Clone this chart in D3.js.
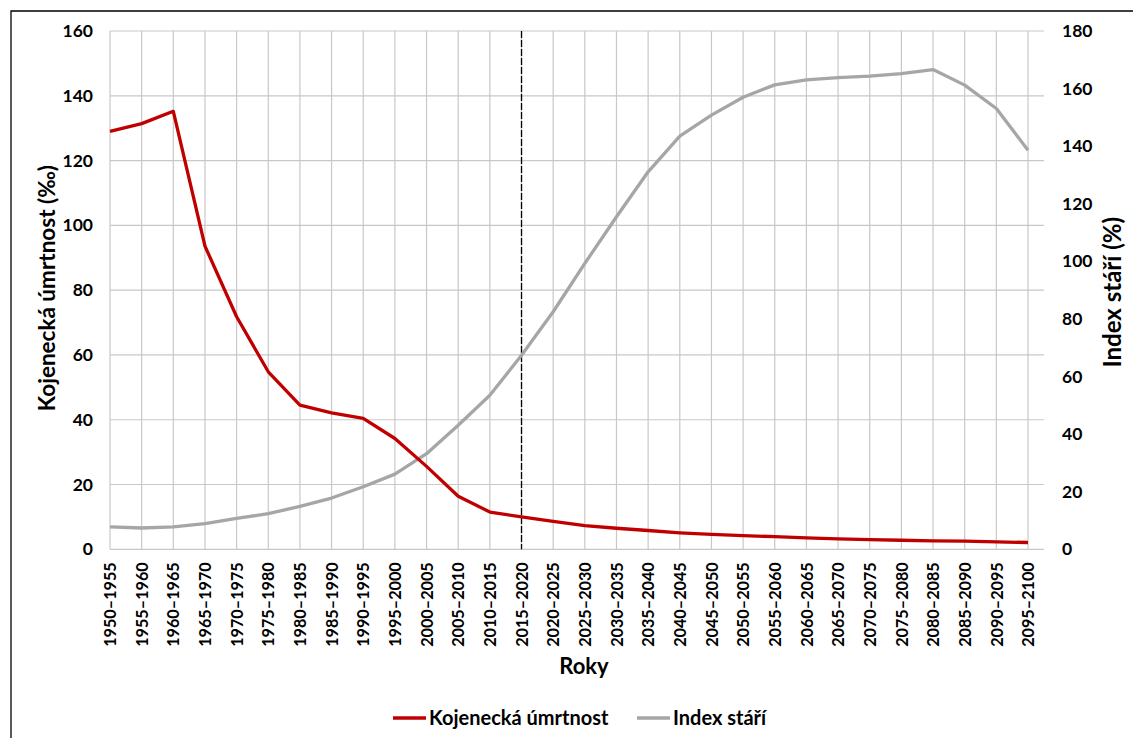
<!DOCTYPE html>
<html lang="cs">
<head>
<meta charset="utf-8">
<title>Kojenecká úmrtnost a index stáří</title>
<script src="https://cdn.jsdelivr.net/npm/d3@7"></script>
<style>
  html, body { margin: 0; padding: 0; background: #fff; }
  svg { display: block; font-family: Lato, "Open Sans", sans-serif; }
</style>
</head>
<body>
<svg id="chart" width="1133" height="738"></svg>
<script>
// Five-year periods
const periods = [
  "1950–1955", "1955–1960", "1960–1965", "1965–1970", "1970–1975", "1975–1980",
  "1980–1985", "1985–1990", "1990–1995", "1995–2000", "2000–2005", "2005–2010",
  "2010–2015", "2015–2020", "2020–2025", "2025–2030", "2030–2035", "2035–2040",
  "2040–2045", "2045–2050", "2050–2055", "2055–2060", "2060–2065", "2065–2070",
  "2070–2075", "2075–2080", "2080–2085", "2085–2090", "2090–2095", "2095–2100"
];

// Infant mortality (per mille), left axis
const infantMortality = [
  129.0, 131.4, 135.2, 93.6, 71.8, 54.8, 44.5, 42.1, 40.4, 34.2,
  25.6, 16.4, 11.5, 10.0, 8.6, 7.3, 6.5, 5.8, 5.1, 4.6,
  4.2, 3.9, 3.5, 3.2, 3.0, 2.8, 2.6, 2.5, 2.3, 2.1
];

// Ageing index (%), right axis
const ageingIndex = [
  7.8, 7.4, 7.8, 8.9, 10.7, 12.4, 14.9, 17.8, 21.7, 26.1,
  33.2, 43.1, 53.5, 67.4, 82.5, 99.3, 115.5, 131.1, 143.5, 150.8,
  157.0, 161.3, 163.0, 163.8, 164.3, 165.2, 166.6, 161.2, 153.1, 138.6
];

const leftTicks = [0, 20, 40, 60, 80, 100, 120, 140, 160];
const rightTicks = [0, 20, 40, 60, 80, 100, 120, 140, 160, 180];
const markerPeriod = "2015–2020";

const seriesNames = ["Kojenecká úmrtnost", "Index stáří"];
const seriesColors = ["#c00000", "#a6a6a6"];

const svg = d3.select("#chart");

const plot = { left: 110, right: 1028, gridRight: 1044, top: 31, bottom: 549.3 };

const x = d3.scalePoint().domain(periods).range([plot.left, plot.right]);
const yLeft = d3.scaleLinear().domain([0, 160]).range([plot.bottom, plot.top]);
const yRight = d3.scaleLinear().domain([0, 180]).range([plot.bottom, plot.top]);

const labelFont = "Lato, sans-serif";
const midY = (plot.top + plot.bottom) / 2;

// outer frame (top and left edges)
svg.append("path")
  .attr("d", "M11,738 L11,11 L1133,11")
  .attr("fill", "none")
  .attr("stroke", "#000")
  .attr("stroke-width", 1.3);

// grid
const grid = svg.append("g").attr("stroke", "#c8c8c8").attr("stroke-width", 1.2);
grid.selectAll("line.h").data(leftTicks).join("line")
  .attr("class", "h")
  .attr("x1", plot.left).attr("x2", plot.gridRight)
  .attr("y1", d => yLeft(d)).attr("y2", d => yLeft(d));
grid.selectAll("line.v").data(periods).join("line")
  .attr("class", "v")
  .attr("x1", d => x(d)).attr("x2", d => x(d))
  .attr("y1", plot.top).attr("y2", plot.bottom);

// left axis
const axL = svg.append("g")
  .attr("transform", `translate(${plot.left},0)`)
  .call(d3.axisLeft(yLeft).tickValues(leftTicks).tickSize(0).tickPadding(17));
axL.select(".domain").remove();
axL.selectAll("text")
  .attr("font-size", 17.5).attr("font-weight", 700).attr("fill", "#000")
  .style("font-family", labelFont);

// right axis
const axR = svg.append("g")
  .attr("transform", `translate(${plot.gridRight},0)`)
  .call(d3.axisRight(yRight).tickValues(rightTicks).tickSize(0).tickPadding(18));
axR.select(".domain").remove();
axR.selectAll("text")
  .attr("font-size", 17.5).attr("font-weight", 700).attr("fill", "#000")
  .style("font-family", labelFont);

// bottom category labels, rotated
const axB = svg.append("g")
  .attr("transform", `translate(0,${plot.bottom})`)
  .call(d3.axisBottom(x).tickSize(0).tickPadding(0));
axB.select(".domain").remove();
axB.selectAll("text")
  .attr("font-size", 16.2).attr("font-weight", 700).attr("fill", "#000")
  .style("font-family", labelFont)
  .attr("text-anchor", "end")
  .attr("transform", "translate(0,13) rotate(-90)")
  .attr("x", 0).attr("y", 0).attr("dy", "0.35em");

// vertical dashed marker
svg.append("line")
  .attr("x1", x(markerPeriod)).attr("x2", x(markerPeriod))
  .attr("y1", plot.top).attr("y2", plot.bottom)
  .attr("stroke", "#000").attr("stroke-width", 1.3)
  .attr("stroke-dasharray", "7,2");

// series lines
const lineLeft = d3.line().x((d, i) => x(periods[i])).y(d => yLeft(d));
const lineRight = d3.line().x((d, i) => x(periods[i])).y(d => yRight(d));

svg.append("path")
  .datum(ageingIndex)
  .attr("d", lineRight)
  .attr("fill", "none")
  .attr("stroke", seriesColors[1])
  .attr("stroke-width", 3.3)
  .attr("stroke-linejoin", "round");

svg.append("path")
  .datum(infantMortality)
  .attr("d", lineLeft)
  .attr("fill", "none")
  .attr("stroke", seriesColors[0])
  .attr("stroke-width", 3.3)
  .attr("stroke-linejoin", "round");

// axis titles
svg.append("text")
  .attr("transform", `translate(55,${midY - 2}) rotate(-90)`)
  .attr("text-anchor", "middle")
  .attr("font-size", 22.5).attr("font-weight", 700).attr("fill", "#000")
  .text("Kojenecká úmrtnost (‰)");

svg.append("text")
  .attr("transform", `translate(1121,${midY + 2}) rotate(-90)`)
  .attr("text-anchor", "middle")
  .attr("font-size", 24).attr("font-weight", 700).attr("fill", "#000")
  .text("Index stáří (%)");

svg.append("text")
  .attr("x", 584).attr("y", 674)
  .attr("text-anchor", "middle")
  .attr("font-size", 22).attr("font-weight", 700).attr("fill", "#000")
  .text("Roky");

// legend
const legendItems = [
  { name: seriesNames[0], color: seriesColors[0], x: 393 },
  { name: seriesNames[1], color: seriesColors[1], x: 637 }
];
const legend = svg.append("g");
const li = legend.selectAll("g").data(legendItems).join("g")
  .attr("transform", d => `translate(${d.x},718)`);
li.append("line")
  .attr("x1", 0).attr("x2", 33).attr("y1", 0).attr("y2", 0)
  .attr("stroke", d => d.color).attr("stroke-width", 3.3);
li.append("text")
  .attr("x", 36).attr("y", 0).attr("dy", "0.36em")
  .attr("font-size", 20).attr("font-weight", 700).attr("fill", "#000")
  .text(d => d.name);
</script>
</body>
</html>
